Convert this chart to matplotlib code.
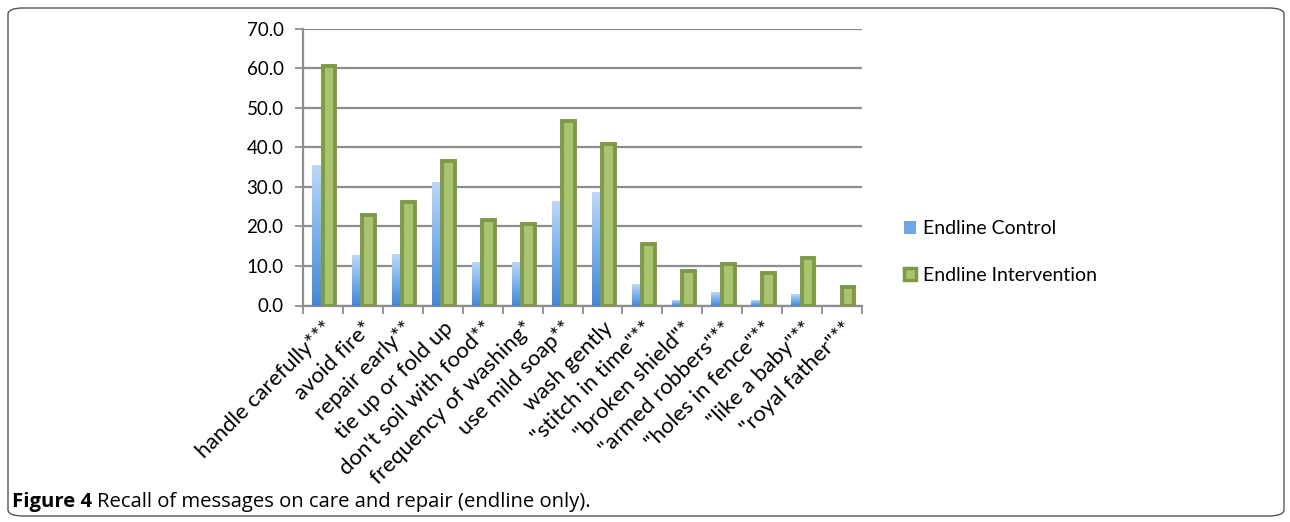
import numpy as np
import matplotlib
matplotlib.use("Agg")
import matplotlib.pyplot as plt
from matplotlib.colors import LinearSegmentedColormap
from matplotlib.patches import FancyBboxPatch, Patch

# --- Data ---
categories = [
    "handle carefully***", "avoid fire*", "repair early**", "tie up or fold up",
    "don't soil with food**", "frequency of washing*", "use mild soap**",
    "wash gently", '"stitch in time"**', '"broken shield"*', '"armed robbers"**',
    '"holes in fence"**', '"like a baby"**', '"royal father"**',
]
control = [35.4, 12.7, 13.0, 31.1, 11.1, 10.9, 26.3, 28.7, 5.4, 1.4, 3.3, 1.4, 3.0, 0.0]
intervention = [60.6, 22.8, 26.1, 36.4, 21.6, 20.6, 46.6, 40.8, 15.5, 8.8, 10.5, 8.2, 12.0, 4.7]
yticks = [0, 10, 20, 30, 40, 50, 60, 70]

plt.rcParams["font.family"] = ["Lato", "DejaVu Sans"]

fig = plt.figure(figsize=(12.9, 5.22), dpi=100)

# rounded frame round the whole figure
frame = FancyBboxPatch((8 / 1290, 6 / 522), 1276 / 1290, 508 / 522,
                       boxstyle="round,pad=0,rounding_size=0.012",
                       transform=fig.transFigure, fill=False,
                       edgecolor="#555555", linewidth=1.0)
fig.patches.append(frame)

ax = fig.add_axes([303 / 1290, 1 - 305.5 / 522, 559 / 1290, 277 / 522])

x = np.arange(len(categories))
w_c = 0.26
w_i = 0.32
off = 0.02

# control bars with a vertical gradient
cmap = LinearSegmentedColormap.from_list("blu", ["#4287D6", "#78B0EE", "#BCD8FA"])
grad = np.linspace(0, 1, 256).reshape(-1, 1)
bars_c = ax.bar(x - w_c / 2 - 0.03 + off, control, width=w_c, color="none",
                edgecolor="none", zorder=3)
for b, v in zip(bars_c, control):
    if v <= 0:
        continue
    x0 = b.get_x()
    im = ax.imshow(grad, cmap=cmap, origin="lower", aspect="auto",
                   extent=[x0, x0 + b.get_width(), 0, v], zorder=3)
    im.set_clip_path(b)

bars_i = ax.bar(x + w_i / 2 - 0.03 + off, intervention, width=w_i,
                color="#A9C46C", edgecolor="#7E9A48", linewidth=2.8, zorder=4)

ax.set_xlim(-0.5, len(categories) - 0.5)
ax.set_ylim(0, 70)
ax.set_yticks(yticks)
ax.set_yticklabels([f"{v:.1f}" for v in yticks], fontsize=13.5)
ax.yaxis.grid(True, color="#8E8E8E", linewidth=1.6, zorder=0)
ax.set_axisbelow(True)

ax.set_xticks(x)
ax.set_xticklabels(categories, rotation=45, ha="right", va="top",
                   rotation_mode="anchor", fontsize=16)
ax.tick_params(axis="x", length=0, pad=9)
ax.set_xticks(np.arange(-0.5, len(categories), 1.0), minor=True)
ax.tick_params(axis="x", which="minor", length=6, width=1.3, color="#8E8E8E")
ax.tick_params(axis="y", length=6, width=1.3, color="#8E8E8E", pad=8)

for s in ["top", "right"]:
    ax.spines[s].set_visible(False)
for s in ["left", "bottom"]:
    ax.spines[s].set_color("#8E8E8E")
    ax.spines[s].set_linewidth(1.6)

handles = [
    Patch(facecolor="#6FA6E6", edgecolor="none", label="Endline Control"),
    Patch(facecolor="#A9C46C", edgecolor="#7E9A48", linewidth=2.5,
          label="Endline Intervention"),
]
fig.legend(handles=handles, loc="upper left",
           bbox_to_anchor=(887 / 1290, 1 - 203 / 522), frameon=False,
           fontsize=14, handlelength=0.6, handleheight=0.6,
           handletextpad=0.35, labelspacing=1.5)

# caption
fig.canvas.draw()
r = fig.canvas.get_renderer()
t1 = fig.text(12 / 1290, 1 - 507 / 522, "Figure 4", fontsize=14.6,
              fontweight="bold", va="baseline", family="Open Sans")
bb = t1.get_window_extent(renderer=r)
fig.text(bb.x1 / 1290 + 5 / 1290, 1 - 507 / 522,
         "Recall of messages on care and repair (endline only).",
         fontsize=14.6, va="baseline", family="Open Sans")

fig.savefig("out.png", dpi=100)
